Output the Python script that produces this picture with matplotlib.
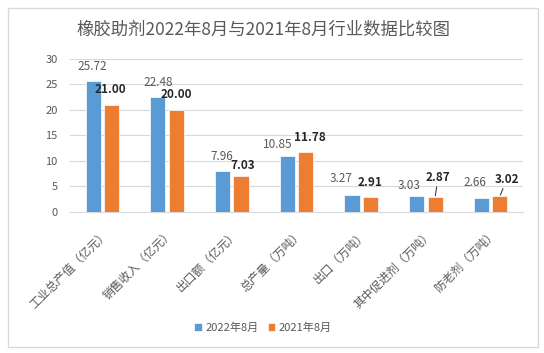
import matplotlib
matplotlib.use("Agg")
import matplotlib.pyplot as plt
from matplotlib.patches import Rectangle

plt.rcParams['font.family'] = ['Noto Sans CJK SC', 'DejaVu Sans']

title = "橡胶助剂2022年8月与2021年8月行业数据比较图"
categories = ["工业总产值（亿元）", "销售收入（亿元）", "出口额（亿元）", "总产量（万吨）",
              "出口（万吨）", "其中促进剂（万吨）", "防老剂（万吨）"]
series_names = ["2022年8月", "2021年8月"]
values_2022 = [25.72, 22.48, 7.96, 10.85, 3.27, 3.03, 2.66]
values_2021 = [21.00, 20.00, 7.03, 11.78, 2.91, 2.87, 3.02]
y_ticks = [0, 5, 10, 15, 20, 25, 30]

# label offsets in pixels from the bar top (dx, dy)
offs_2022 = [(-1, 14), (0, 14.5), (-1, 14.5), (-10, 12), (-11, 17), (-8, 11), (-7, 15.5)]
offs_2021 = [(-1, 15), (0.5, 15.5), (1.5, 10), (4.5, 14.5), (0, 14.5), (3, 19.5), (7, 17)]
leader_2021 = [False, False, False, False, False, True, True]

BLUE = "#5B9BD5"
ORANGE = "#ED7D31"
GRAY = "#595959"
GRID = "#D9D9D9"

fig = plt.figure(figsize=(5.44, 3.53), dpi=100)
fig.patches.append(Rectangle((8 / 544, 6 / 353), 530 / 544, 339 / 353, transform=fig.transFigure,
                             fill=False, edgecolor=GRID, linewidth=1.0))
ax = fig.add_axes([70 / 544, 1 - 211.7 / 353, 453 / 544, 152.7 / 353])

x = list(range(len(categories)))
w = 0.233
d = 0.142
ax.bar([i - d for i in x], values_2022, w, color=BLUE, edgecolor="white", linewidth=0.5,
       label=series_names[0], zorder=3)
ax.bar([i + d for i in x], values_2021, w, color=ORANGE, edgecolor="white", linewidth=0.5,
       label=series_names[1], zorder=3)

for i, v in enumerate(values_2022):
    ax.annotate(f"{v:.2f}", (i - d, v), xytext=offs_2022[i], textcoords="offset pixels",
                ha="center", va="center", fontsize=8.5, color=GRAY)
for i, v in enumerate(values_2021):
    kw = {}
    if leader_2021[i]:
        kw["arrowprops"] = dict(arrowstyle="-", color="#404040", lw=0.8, shrinkA=0, shrinkB=1)
    ax.annotate(f"{v:.2f}", (i + d, v), xytext=offs_2021[i], textcoords="offset pixels",
                ha="center", va="center", fontsize=8.5, color="#262626", fontweight="semibold", **kw)

ax.set_xlim(-0.5, len(categories) - 0.5)
ax.set_ylim(0, 30)
ax.set_yticks(y_ticks)
ax.yaxis.grid(True, color=GRID, linewidth=0.8, zorder=0)
ax.set_axisbelow(True)
for s in ["top", "right", "left"]:
    ax.spines[s].set_visible(False)
ax.spines["bottom"].set_color(GRID)
ax.tick_params(axis="both", length=0, colors=GRAY, labelsize=8)
ax.tick_params(axis="y", pad=9)
ax.tick_params(axis="x", pad=11)
ax.set_xticks(x)
ax.set_xticklabels(categories, rotation=45, ha="right", rotation_mode="anchor", fontsize=8.5)

fig.text(263 / 544, 1 - 30 / 353, title, ha="center", va="center", fontsize=12.5, color=GRAY)
fig.legend(loc="center", bbox_to_anchor=(263 / 544, 1 - 328 / 353), ncol=2, frameon=False,
           fontsize=8, handlelength=0.7, handleheight=0.7, handletextpad=0.3, columnspacing=0.8,
           labelcolor=GRAY)

fig.savefig("out.png", dpi=100)
